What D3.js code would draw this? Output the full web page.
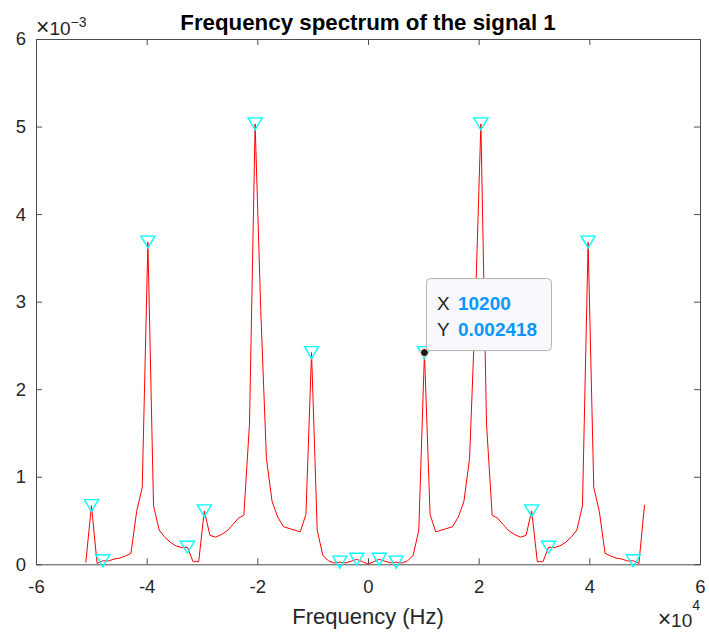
<!DOCTYPE html>
<html>
<head>
<meta charset="utf-8">
<script src="https://d3js.org/d3.v7.min.js"></script>
<style>
    body { margin: 0; background: #fff; }
    svg text { font-family: "Liberation Sans", Arial, Helvetica, sans-serif; fill: #262626; }
</style>
</head>
<body>
<script>
(function(){

    //fft bins of the spectrum (Hz)
    var freqHz = [
        -51000, -49980, -48960, -47940, -46920, -45900, -44880, -43860, -42840, -41820,
        -40800, -39780, -38760, -37740, -36720, -35700, -34680, -33660, -32640, -31620,
        -30600, -29580, -28560, -27540, -26520, -25500, -24480, -23460, -22440, -21420,
        -20400, -19380, -18360, -17340, -16320, -15300, -14280, -13260, -12240, -11220,
        -10200, -9180, -8160, -7140, -6120, -5100, -4080, -3060, -2040, -1020,
        0, 1020, 2040, 3060, 4080, 5100, 6120, 7140, 8160, 9180,
        10200, 11220, 12240, 13260, 14280, 15300, 16320, 17340, 18360, 19380,
        20400, 21420, 22440, 23460, 24480, 25500, 26520, 27540, 28560, 29580,
        30600, 31620, 32640, 33660, 34680, 35700, 36720, 37740, 38760, 39780,
        40800, 41820, 42840, 43860, 44880, 45900, 46920, 47940, 48960, 49980
    ];

    //magnitude of each bin (x 1e-3)
    var magnitude = [
        0.02, 0.67, 0.01, 0.04, 0.038, 0.06, 0.07, 0.095, 0.125, 0.60,
        0.88, 3.68, 0.67, 0.39, 0.31, 0.25, 0.21, 0.19, 0.195, 0.03,
        0.03, 0.61, 0.33, 0.31, 0.34, 0.38, 0.45, 0.525, 0.56, 1.60,
        5.03, 2.90, 1.21, 0.72, 0.54, 0.43, 0.41, 0.39, 0.37, 0.57,
        2.418, 0.39, 0.10, 0.04, 0.015, 0.025, 0.015, 0.035, 0.057, 0.03,
        0.003, 0.03, 0.057, 0.035, 0.015, 0.025, 0.015, 0.04, 0.10, 0.39,
        2.418, 0.57, 0.37, 0.39, 0.41, 0.43, 0.54, 0.72, 1.21, 2.90,
        5.03, 1.60, 0.56, 0.525, 0.45, 0.38, 0.34, 0.31, 0.33, 0.61,
        0.03, 0.03, 0.195, 0.19, 0.21, 0.25, 0.31, 0.39, 0.67, 3.68,
        0.88, 0.60, 0.125, 0.095, 0.07, 0.06, 0.038, 0.04, 0.01, 0.68
    ];

    //frequencies where findpeaks put a marker
    var peakFreq = [-49980, -47940, -39780, -32640, -29580, -20400, -10200, -5100, -2040,
                    2040, 5100, 10200, 20400, 29580, 32640, 39780, 47940];

    //tick labels
    var xTicks = [-6, -4, -2, 0, 2, 4, 6];   //x 1e4
    var yTicks = [0, 1, 2, 3, 4, 5, 6];      //x 1e-3

    //data tip
    var tipX = 10200,
        tipY = 0.002418;

    window.onload = drawChart();

    function drawChart(){

        var width = 709,
            height = 634;

        //axes box
        var left = 36, right = 700, top = 39, bottom = 564.3;

        var svg = d3.select("body")
            .append("svg")
            .attr("width", width)
            .attr("height", height);

        var x = d3.scaleLinear()
            .domain([-60000, 60000])
            .range([left, right]);

        var y = d3.scaleLinear()
            .domain([0, 0.006])
            .range([bottom, top]);

        var data = freqHz.map(function(f, i){
            return { f: f, m: magnitude[i] * 1e-3 };
        });

        drawAxes(svg, x, y, left, right, top, bottom);

        //spectrum line
        var line = d3.line()
            .x(function(d){ return x(d.f); })
            .y(function(d){ return y(d.m); });

        svg.append("path")
            .datum(data)
            .attr("d", line)
            .attr("fill", "none")
            .attr("stroke", "#ff0000")
            .attr("stroke-width", 1)
            .attr("stroke-linejoin", "round");

        //peak markers
        var peaks = peakFreq.map(function(f){
            return data[freqHz.indexOf(f)];
        });

        svg.selectAll(".peak")
            .data(peaks)
            .enter()
            .append("path")
            .attr("class", "peak")
            .attr("d", "M-7,-6L7,-6L0,6Z")
            .attr("transform", function(d){
                return "translate(" + x(d.f) + "," + y(d.m) + ")";
            })
            .attr("fill", "none")
            .attr("stroke", "#00ffff")
            .attr("stroke-width", 1.4);

        drawDataTip(svg, x, y);

        //title
        svg.append("text")
            .attr("x", (left + right) / 2)
            .attr("y", 30)
            .attr("text-anchor", "middle")
            .style("font-size", "22.3px")
            .style("font-weight", "bold")
            .style("fill", "#000")
            .text("Frequency spectrum of the signal 1");

        //x label
        svg.append("text")
            .attr("x", (left + right) / 2)
            .attr("y", 624)
            .attr("text-anchor", "middle")
            .style("font-size", "22px")
            .text("Frequency (Hz)");

        //exponent labels
        var expY = svg.append("text")
            .attr("x", 36)
            .attr("y", 35)
            .style("font-size", "19px");
        expY.append("tspan").style("font-size", "23px").text("\u00d7");
        expY.append("tspan").text("10");
        expY.append("tspan")
            .attr("dy", -8.5)
            .style("font-size", "14px")
            .text("\u22123");

        var expX = svg.append("text")
            .attr("x", right)
            .attr("y", 627)
            .attr("text-anchor", "end")
            .style("font-size", "19px");
        expX.append("tspan").style("font-size", "23px").text("\u00d7");
        expX.append("tspan").text("10");
        expX.append("tspan")
            .attr("dy", -17)
            .style("font-size", "14px")
            .text("4");
    };

    function drawAxes(svg, x, y, left, right, top, bottom){

        var xVals = xTicks.map(function(t){ return t * 1e4; });
        var yVals = yTicks.map(function(t){ return t * 1e-3; });

        //bottom axis with labels, ticks pointing in
        var xAxis = svg.append("g")
            .attr("transform", "translate(0," + bottom + ")")
            .call(d3.axisBottom(x)
                .tickValues(xVals)
                .tickFormat(function(d){ return d / 1e4; })
                .tickSizeInner(-6)
                .tickSizeOuter(0)
                .tickPadding(16));

        //left axis with labels
        var yAxis = svg.append("g")
            .attr("transform", "translate(" + left + ",0)")
            .call(d3.axisLeft(y)
                .tickValues(yVals)
                .tickFormat(function(d){ return Math.round(d * 1e3); })
                .tickSizeInner(-6)
                .tickSizeOuter(0)
                .tickPadding(10));

        //top and right box edges
        var xTop = svg.append("g")
            .attr("transform", "translate(0," + top + ")")
            .call(d3.axisTop(x)
                .tickValues(xVals)
                .tickFormat("")
                .tickSizeInner(-6)
                .tickSizeOuter(0));

        var yRight = svg.append("g")
            .attr("transform", "translate(" + right + ",0)")
            .call(d3.axisRight(y)
                .tickValues(yVals)
                .tickFormat("")
                .tickSizeInner(-6)
                .tickSizeOuter(0));

        svg.selectAll(".domain, .tick line")
            .attr("stroke", "#4d4d4d")
            .attr("stroke-width", 1);

        svg.selectAll(".tick text")
            .style("font-size", "18.5px")
            .style("font-family", "'Liberation Sans', Arial, Helvetica, sans-serif")
            .attr("fill", "#262626");
    };

    function drawDataTip(svg, x, y){

        var px = x(tipX),
            py = y(tipY);

        var tip = svg.append("g")
            .attr("class", "datatip");

        tip.append("rect")
            .attr("x", px + 2)
            .attr("y", py - 74)
            .attr("width", 125)
            .attr("height", 72)
            .attr("rx", 4)
            .attr("fill", "#f9f9fd")
            .attr("stroke", "#b3b3b3")
            .attr("stroke-width", 1);

        var rows = [["X", tipX], ["Y", tipY]];

        tip.selectAll(".tipRow")
            .data(rows)
            .enter()
            .append("text")
            .attr("class", "tipRow")
            .attr("y", function(d, i){ return py - 43 + i * 26.5; })
            .style("font-size", "19px")
            .each(function(d){
                var t = d3.select(this);
                t.append("tspan")
                    .attr("x", px + 12.5)
                    .text(d[0]);
                t.append("tspan")
                    .attr("x", px + 33.5)
                    .style("font-weight", "bold")
                    .style("fill", "#0a96ff")
                    .text(d[1]);
            });

        tip.append("circle")
            .attr("cx", px)
            .attr("cy", py)
            .attr("r", 4)
            .attr("fill", "#1a1a1a")
            .attr("stroke", "#ffffc8")
            .attr("stroke-width", 1);
    };
})();
</script>
</body>
</html>
